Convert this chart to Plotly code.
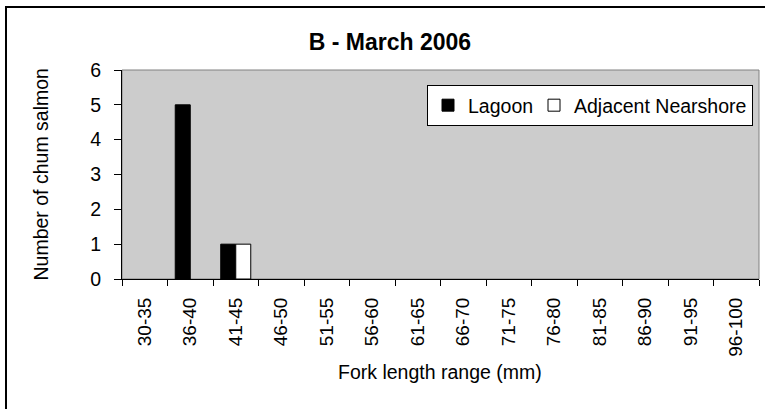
import plotly.graph_objects as go

categories = ["30-35", "36-40", "41-45", "46-50", "51-55", "56-60", "61-65",
              "66-70", "71-75", "76-80", "81-85", "86-90", "91-95", "96-100"]
lagoon = [0, 5, 1, 0, 0, 0, 0, 0, 0, 0, 0, 0, 0, 0]
nearshore = [0, 0, 1, 0, 0, 0, 0, 0, 0, 0, 0, 0, 0, 0]

W, H = 765, 409
L, R, T, B = 122, 6, 70, 130
pw, ph = W - L - R, H - T - B

def px(x):
    return (x - L) / pw

def py(y):
    return (H - B - y) / ph

FONT = "Liberation Sans, Arial, sans-serif"

def nonzero(vals):
    # zero-count bins are drawn as no bar at all (no outline stub)
    return [v if v > 0 else None for v in vals]

fig = go.Figure()
fig.add_trace(go.Bar(x=categories, y=nonzero(lagoon), name="Lagoon", legendwidth=61,
                     marker=dict(color="black", line=dict(color="black", width=1))))
fig.add_trace(go.Bar(x=categories, y=nonzero(nearshore), name="Adjacent Nearshore",
                     marker=dict(color="white", line=dict(color="black", width=1))))

fig.update_layout(
    width=W, height=H,
    margin=dict(l=L, r=R, t=T, b=B),
    paper_bgcolor="white",
    plot_bgcolor="#cccccc",
    barmode="group",
    bargap=0.34,
    bargroupgap=0,
    font=dict(family=FONT, size=19.5, color="black"),
    title=dict(text="<b>B - March 2006</b>", x=390 / W, xref="container",
               xanchor="center", y=1 - 42 / H, yref="container", yanchor="middle",
               font=dict(size=23, family=FONT, color="black")),
    legend=dict(orientation="h", x=px(427), y=py(85), xanchor="left", yanchor="top",
                bgcolor="white", bordercolor="black", borderwidth=1,
                font=dict(size=19.5, family=FONT), itemwidth=30,
                tracegroupgap=0),
    showlegend=True,
)

fig.update_xaxes(
    type="category", categoryorder="array", categoryarray=categories,
    showline=True, linecolor="black", linewidth=1,
    ticks="outside", ticklen=6, tickcolor="black", tickson="boundaries",
    tickangle=-90, showgrid=False, zeroline=False, range=[-0.5, len(categories) - 0.5],
    tickfont=dict(size=19, family=FONT), ticklabelstandoff=10,
)
fig.update_yaxes(
    range=[0, 6], dtick=1, showline=True, linecolor="black", linewidth=1,
    ticks="outside", ticklen=7, tickcolor="black", showgrid=False, zeroline=False,
    tickfont=dict(size=19.5, family=FONT), ticklabelstandoff=9,
)

# plot area border (top/right grey)
fig.add_shape(type="rect", xref="paper", yref="paper", x0=0, x1=1, y0=0, y1=1,
              line=dict(color="#808080", width=1), layer="below")
# chart frame
fig.add_shape(type="rect", xref="paper", yref="paper",
              x0=px(6), x1=px(775), y0=py(420), y1=py(7),
              line=dict(color="black", width=2))

fig.add_annotation(text="Number of chum salmon", xref="paper", yref="paper",
                   x=px(40), y=0.5, textangle=-90, showarrow=False,
                   xanchor="center", yanchor="middle",
                   font=dict(size=19.5, family=FONT))
fig.add_annotation(text="Fork length range (mm)", xref="paper", yref="paper",
                   x=px(440), y=py(372), showarrow=False,
                   xanchor="center", yanchor="middle",
                   font=dict(size=19.5, family=FONT))

fig.write_html("out.html", config={"displayModeBar": False},
               post_script="document.body.style.margin='0';")
